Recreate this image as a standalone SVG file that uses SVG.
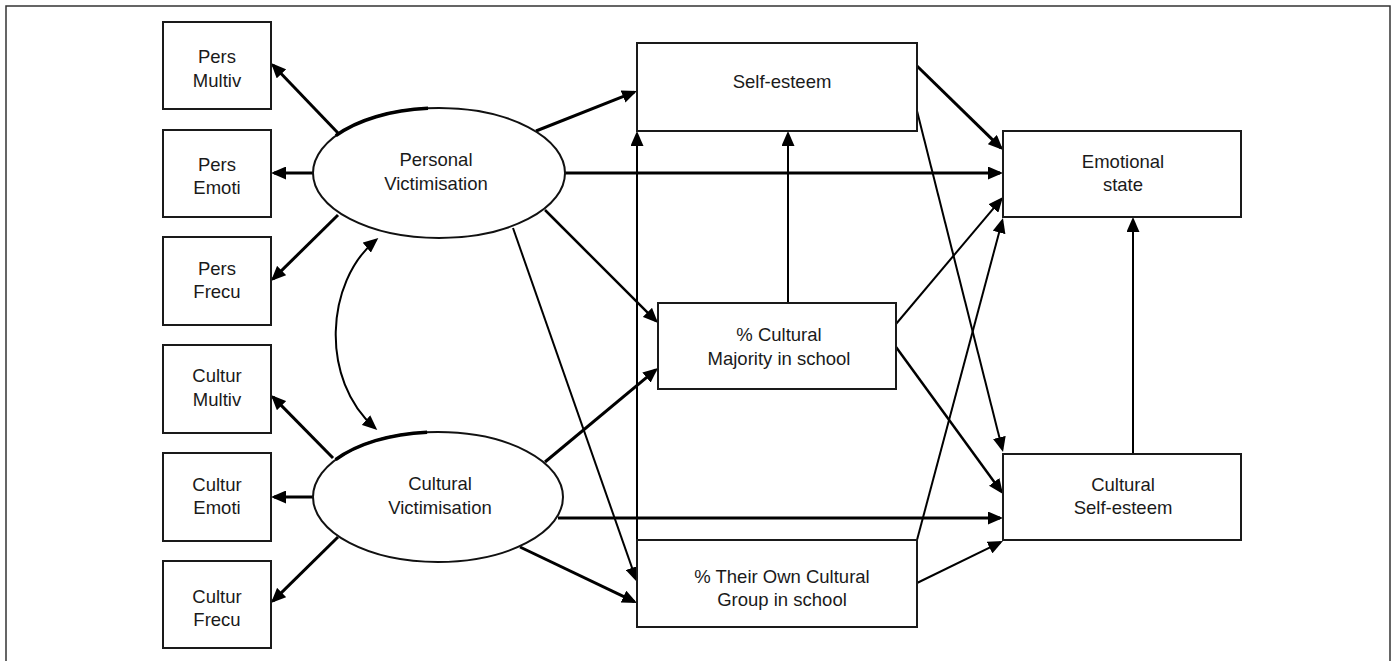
<svg xmlns="http://www.w3.org/2000/svg" width="1395" height="661" viewBox="0 0 1395 661">
<defs>
<style>
.box{fill:#fff;stroke:#1a1a1a;stroke-width:2}
.ell{fill:#fff;stroke:#111;stroke-width:2}
.thk{fill:none;stroke:#000;stroke-width:3.5}
.t{font-family:"Liberation Sans",Arial,sans-serif;font-size:18.5px;fill:#1a1a1a;text-anchor:middle}
.c{fill:none;stroke:#000;marker-end:url(#ah)}
.k{stroke-width:3}
.m{stroke-width:2.5}
.n{stroke-width:2}
</style>
<marker id="ah" markerUnits="userSpaceOnUse" viewBox="0 0 15 13" markerWidth="15" markerHeight="13" refX="12" refY="6.5" orient="auto-start-reverse">
<path d="M0,0 L15,6.5 L0,13 z" fill="#000"/>
</marker>
</defs>
<rect x="6" y="6" width="1384" height="720" fill="#fff" stroke="#333" stroke-width="1.5"/>
<g id="connectors">
<line class="c k" x1="338" y1="133" x2="273.1" y2="65.2"/>
<line class="c k" x1="313" y1="173" x2="274" y2="173"/>
<line class="c k" x1="338" y1="215" x2="273.1" y2="278.9"/>
<line class="c k" x1="333" y1="458" x2="273.1" y2="397.1"/>
<line class="c k" x1="313" y1="497" x2="274" y2="497"/>
<line class="c k" x1="338" y1="537" x2="273.1" y2="600.9"/>
<path class="c n" d="M376,240 C325,282 320,380 375,428" marker-start="url(#ah)"/>
<line class="c k" x1="536" y1="131" x2="634.2" y2="92.1"/>
<line class="c k" x1="565" y1="173" x2="1000" y2="173"/>
<line class="c m" x1="545" y1="210" x2="655.9" y2="320.9"/>
<line class="c n" x1="513" y1="228" x2="636" y2="579.2"/>
<line class="c k" x1="545" y1="462" x2="655.7" y2="369.9"/>
<line class="c k" x1="558" y1="518" x2="1000" y2="518"/>
<line class="c k" x1="520" y1="547" x2="634.3" y2="601.7"/>
<line class="c n" x1="637" y1="540" x2="637" y2="134"/>
<line class="c n" x1="788" y1="303" x2="788" y2="134"/>
<line class="c k" x1="917" y1="66" x2="1000.9" y2="147.9"/>
<line class="c n" x1="917" y1="111" x2="1002.3" y2="449.1"/>
<line class="c n" x1="896" y1="324" x2="1001.1" y2="199.3"/>
<line class="c m" x1="896" y1="347" x2="1001.2" y2="491.6"/>
<line class="c n" x1="917" y1="540" x2="1002.2" y2="220.9"/>
<line class="c n" x1="917" y1="583" x2="1000.3" y2="542.3"/>
<line class="c n" x1="1133" y1="454" x2="1133" y2="220"/>
</g>
<g id="pers-multiv"><rect class="box" x="163" y="22" width="108" height="87"/><text class="t" x="217" y="63">Pers</text><text class="t" x="217" y="87">Multiv</text></g>
<g id="pers-emoti"><rect class="box" x="163" y="130" width="108" height="87"/><text class="t" x="217" y="171">Pers</text><text class="t" x="217" y="194">Emoti</text></g>
<g id="pers-frecu"><rect class="box" x="163" y="237" width="108" height="88"/><text class="t" x="217" y="275">Pers</text><text class="t" x="217" y="298">Frecu</text></g>
<g id="cultur-multiv"><rect class="box" x="163" y="345" width="108" height="88"/><text class="t" x="217" y="382">Cultur</text><text class="t" x="217" y="406">Multiv</text></g>
<g id="cultur-emoti"><rect class="box" x="163" y="453" width="108" height="88"/><text class="t" x="217" y="491">Cultur</text><text class="t" x="217" y="514">Emoti</text></g>
<g id="cultur-frecu"><rect class="box" x="163" y="561" width="108" height="87"/><text class="t" x="217" y="603">Cultur</text><text class="t" x="217" y="626">Frecu</text></g>
<g id="personal-victimisation"><ellipse class="ell" cx="439" cy="173" rx="126" ry="65"/><path class="thk" d="M335.8,135.7 A126,65 0 0 1 428,108.3"/><text class="t" x="436" y="166">Personal</text><text class="t" x="436" y="190">Victimisation</text></g>
<g id="cultural-victimisation"><ellipse class="ell" cx="438" cy="497" rx="125" ry="65"/><path class="thk" d="M335.6,459.7 A125,65 0 0 1 427.1,432.2"/><text class="t" x="440" y="490">Cultural</text><text class="t" x="440" y="514">Victimisation</text></g>
<g id="self-esteem"><rect class="box" x="637" y="43" width="280" height="88"/><text class="t" x="782" y="88">Self-esteem</text></g>
<g id="cultural-majority"><rect class="box" x="658" y="303" width="238" height="86"/><text class="t" x="779" y="341">% Cultural</text><text class="t" x="779" y="365">Majority in school</text></g>
<g id="own-group"><rect class="box" x="637" y="540" width="280" height="87"/><text class="t" x="782" y="583">% Their Own Cultural</text><text class="t" x="782" y="606">Group in school</text></g>
<g id="emotional-state"><rect class="box" x="1003" y="131" width="238" height="86"/><text class="t" x="1123" y="168">Emotional</text><text class="t" x="1123" y="191">state</text></g>
<g id="cultural-self-esteem"><rect class="box" x="1003" y="454" width="238" height="86"/><text class="t" x="1123" y="491">Cultural</text><text class="t" x="1123" y="514">Self-esteem</text></g>
</svg>
